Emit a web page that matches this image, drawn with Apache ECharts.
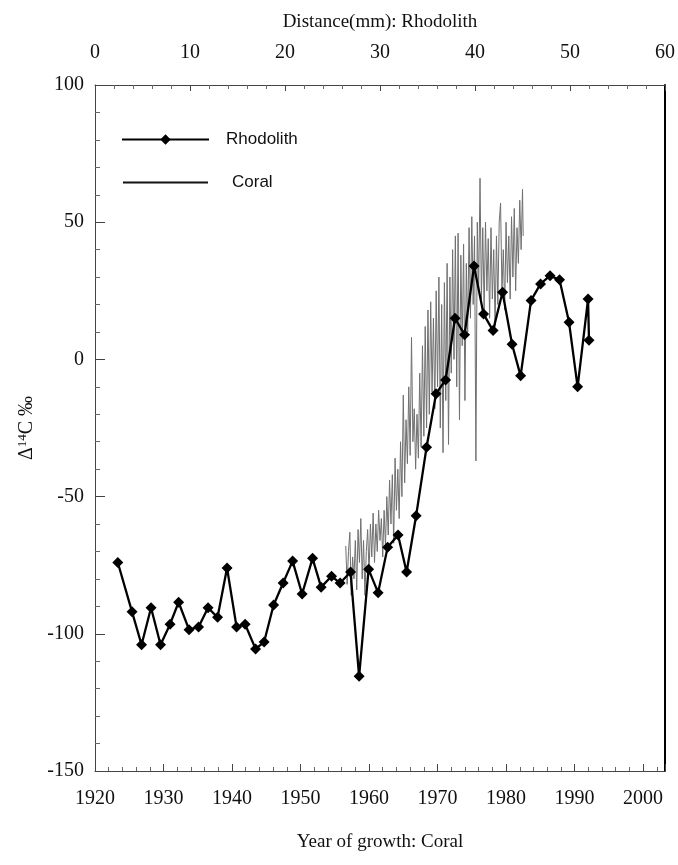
<!DOCTYPE html>
<html>
<head>
<meta charset="utf-8">
<script src="https://cdn.jsdelivr.net/npm/echarts@6/dist/echarts.min.js"></script>
<style>
  html, body { margin: 0; padding: 0; background: #fff; }
  #main { width: 678px; height: 865px; }
</style>
</head>
<body>
<div id="main"></div>
<script>
// rhodolith samples, position along the top (distance) axis, in mm
var rhodolithDist = [2.4, 3.9, 4.9, 5.9, 6.9, 7.9, 8.8, 9.9, 10.9, 11.9,
    12.9, 13.9, 14.9, 15.8, 16.9, 17.8, 18.8, 19.8, 20.8, 21.8,
    22.9, 23.8, 24.9, 25.8, 26.9, 27.8, 28.8, 29.8, 30.8, 31.9,
    32.8, 33.8, 34.9, 35.9, 36.9, 37.9, 38.9, 39.9, 40.9, 41.9,
    42.9, 43.9, 44.8, 45.9, 46.9, 47.9, 48.9, 49.9, 50.8, 51.9, 52.0];
var rhodolithValues = [-74, -92, -104, -90.5, -104, -96.5, -88.5, -98.5, -97.5, -90.5,
    -94, -76, -97.5, -96.5, -105.5, -103, -89.5, -81.5, -73.5, -85.5,
    -72.5, -83, -79, -81.5, -77.5, -115.5, -76.5, -85, -68.5, -64,
    -77.5, -57, -32, -12.5, -7.5, 15, 9, 34, 16.5, 10.5,
    24.5, 5.5, -6, 21.5, 27.5, 30.5, 29, 13.5, -10, 22, 7];

// coral record (dense, sub-annual), on the year axis
var coralYears = [1956.6, 1956.8, 1957.0, 1957.2, 1957.4, 1957.6, 1957.8, 1958.0, 1958.2, 1958.4,
    1958.6, 1958.8, 1959.0, 1959.2, 1959.4, 1959.6, 1959.8, 1960.0, 1960.2, 1960.4,
    1960.6, 1960.8, 1961.0, 1961.2, 1961.4, 1961.6, 1961.8, 1962.0, 1962.2, 1962.4,
    1962.6, 1962.8, 1963.0, 1963.2, 1963.4, 1963.6, 1963.8, 1964.0, 1964.2, 1964.4,
    1964.6, 1964.8, 1965.0, 1965.2, 1965.4, 1965.6, 1965.8, 1966.0, 1966.2, 1966.4,
    1966.6, 1966.8, 1967.0, 1967.2, 1967.4, 1967.6, 1967.8, 1968.0, 1968.2, 1968.4,
    1968.6, 1968.8, 1969.0, 1969.2, 1969.4, 1969.6, 1969.8, 1970.0, 1970.2, 1970.4,
    1970.6, 1970.8, 1971.0, 1971.2, 1971.4, 1971.6, 1971.8, 1972.0, 1972.2, 1972.4,
    1972.6, 1972.8, 1973.0, 1973.2, 1973.4, 1973.6, 1973.8, 1974.0, 1974.2, 1974.4,
    1974.6, 1974.8, 1975.0, 1975.2, 1975.4, 1975.6, 1975.8, 1976.0, 1976.2, 1976.4,
    1976.6, 1976.8, 1977.0, 1977.2, 1977.4, 1977.6, 1977.8, 1978.0, 1978.2, 1978.4,
    1978.6, 1978.8, 1979.0, 1979.2, 1979.4, 1979.6, 1979.8, 1980.0, 1980.2, 1980.4,
    1980.6, 1980.8, 1981.0, 1981.2, 1981.4, 1981.6, 1981.8, 1982.0, 1982.2, 1982.4, 1982.5];
var coralValues = [-68, -82, -70, -63, -86, -72, -80, -66, -84, -62,
    -74, -58, -80, -66, -86, -70, -62, -78, -60, -72,
    -56, -74, -60, -70, -55, -66, -58, -72, -55, -68,
    -50, -64, -44, -60, -42, -67, -36, -55, -40, -58,
    -30, -50, -13, -45, -22, -38, -10, -35, 8, -30,
    -18, -40, -20, -36, -5, -32, 5, -28, 12, -25,
    18, -20, 21, -12, 15, -18, 25, -10, 30, -25,
    20, -34, 28, -15, 35, -31, 30, -5, 40, 0,
    45, -10, 46, -22, 38, 5, 42, -15, 35, 10,
    48, 15, 52, 20, 45, -37, 50, 25, 66, 22,
    48, 18, 50, 25, 44, 15, 48, 22, 40, 12,
    45, 20, 50, 57, 25, 40, 18, 50, 28, 45,
    22, 52, 30, 55, 25, 48, 35, 58, 40, 62, 45];

var bottomTicks = [1920, 1930, 1940, 1950, 1960, 1970, 1980, 1990, 2000];
var topTicks = [0, 10, 20, 30, 40, 50, 60];
var yTicks = [-150, -100, -50, 0, 50, 100];

function pairs(xs, ys) {
    var out = [];
    for (var i = 0; i < xs.length; i++) {
        out.push([xs[i], ys[i]]);
    }
    return out;
}

var serif = 'Liberation Serif';
var ink = '#111';

var chart = echarts.init(document.getElementById('main'));

var option = {
    animation: false,
    backgroundColor: '#fff',
    grid: {left: 95, right: 11, top: 85, bottom: 94},
    legend: [
        {
            left: 116,
            top: 126,
            itemWidth: 87,
            itemHeight: 13,
            textStyle: {color: ink, fontFamily: 'Liberation Sans', fontSize: 17, padding: [0, 0, 0, 12]},
            data: ['Rhodolith']
        },
        {
            left: 118,
            top: 169,
            itemWidth: 85,
            itemHeight: 2,
            itemStyle: {color: ink},
            textStyle: {color: ink, fontFamily: 'Liberation Sans', fontSize: 17, padding: [0, 0, 0, 19]},
            data: [{name: 'Coral', icon: 'rect'}]
        }
    ],
    xAxis: [
        {
            type: 'value',
            position: 'bottom',
            min: bottomTicks[0],
            max: 2003.2,
            interval: 10,
            name: 'Year of growth: Coral',
            nameLocation: 'middle',
            nameGap: 62,
            nameTextStyle: {color: ink, fontFamily: serif, fontSize: 19},
            axisLine: {onZero: false, lineStyle: {color: '#444', width: 1}},
            axisTick: {inside: true, length: 7, lineStyle: {color: '#444'}},
            minorTick: {show: true, splitNumber: 5, length: 4, lineStyle: {color: '#666'}},
            axisLabel: {
                margin: 18,
                color: ink, fontFamily: serif, fontSize: 20,
                formatter: function (v) {
                    return bottomTicks.indexOf(v) >= 0 ? String(v) : '';
                }
            },
            splitLine: {show: false}
        },
        {
            type: 'value',
            position: 'top',
            min: topTicks[0],
            max: topTicks[topTicks.length - 1],
            interval: 10,
            name: 'Distance(mm): Rhodolith',
            nameLocation: 'middle',
            nameGap: 53,
            nameTextStyle: {color: ink, fontFamily: serif, fontSize: 19},
            axisLine: {onZero: false, lineStyle: {color: '#444', width: 1}},
            axisTick: {inside: true, length: 6, lineStyle: {color: '#444'}},
            minorTick: {show: true, splitNumber: 5, length: 4, lineStyle: {color: '#666'}},
            axisLabel: {margin: 22, color: ink, fontFamily: serif, fontSize: 20},
            splitLine: {show: false}
        }
    ],
    yAxis: [
        {
            type: 'value',
            position: 'left',
            min: yTicks[0],
            max: yTicks[yTicks.length - 1],
            interval: 50,
            name: '{t|Δ}{s|14}{t|C ‰}',
            nameLocation: 'middle',
            nameGap: 47,
            nameRotate: 90,
            nameTextStyle: {
                rich: {
                    t: {color: ink, fontFamily: serif, fontSize: 20},
                    s: {color: ink, fontFamily: serif, fontSize: 13, verticalAlign: 'top', padding: [0, 0, 8, 0]}
                }
            },
            axisLine: {onZero: false, lineStyle: {color: '#444', width: 1}},
            axisTick: {inside: true, length: 10, lineStyle: {color: '#444'}},
            minorTick: {show: true, splitNumber: 5, length: 5, lineStyle: {color: '#666'}},
            axisLabel: {margin: 11, color: ink, fontFamily: serif, fontSize: 20},
            splitLine: {show: false}
        },
        {
            type: 'value',
            position: 'right',
            min: yTicks[0],
            max: yTicks[yTicks.length - 1],
            interval: 50,
            axisLine: {show: true, onZero: false, lineStyle: {color: '#000', width: 2}},
            axisTick: {show: false},
            axisLabel: {show: false},
            splitLine: {show: false}
        }
    ],
    series: [
        {
            name: 'Coral',
            type: 'line',
            xAxisIndex: 0,
            yAxisIndex: 0,
            data: pairs(coralYears, coralValues),
            symbol: 'none',
            color: '#777',
            lineStyle: {color: '#707070', width: 1},
            z: 2
        },
        {
            name: 'Rhodolith',
            type: 'line',
            xAxisIndex: 1,
            yAxisIndex: 0,
            data: pairs(rhodolithDist, rhodolithValues),
            symbol: 'diamond',
            symbolSize: 11,
            color: '#000',
            itemStyle: {color: '#000'},
            lineStyle: {color: '#000', width: 2.3},
            z: 3
        }
    ]
};

chart.setOption(option);
</script>
</body>
</html>
